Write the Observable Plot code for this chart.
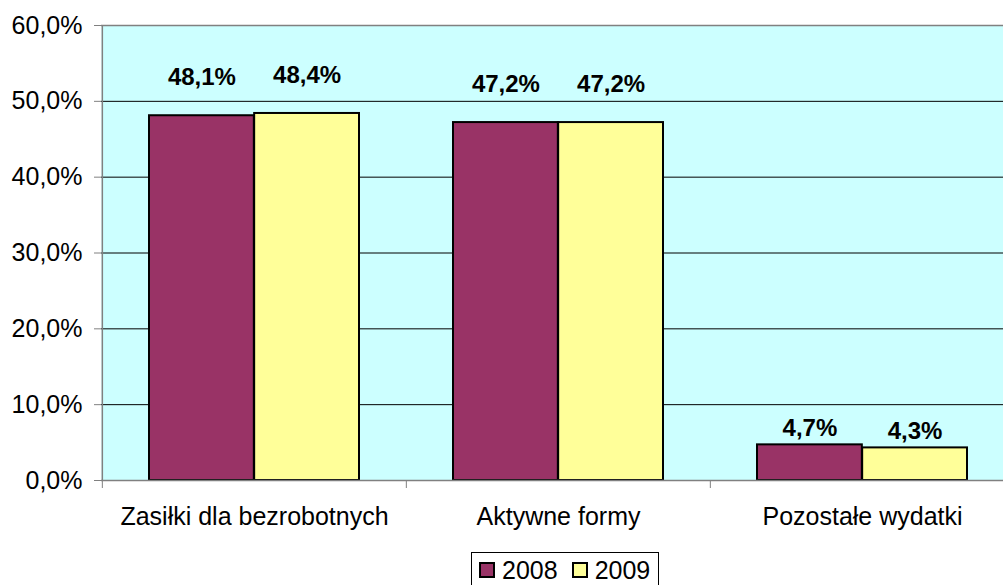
<!DOCTYPE html>
<html><head><meta charset="utf-8">
<script src="https://cdn.jsdelivr.net/npm/d3@7"></script>
<script src="https://cdn.jsdelivr.net/npm/@observablehq/plot@0.6"></script>
<style>
body{margin:0;background:#fff;font-family:"Liberation Sans",Arial,sans-serif;}
#chart{position:relative;width:1003px;height:585px;overflow:hidden;background:#fff;}
#chart svg{display:block;}
#legend{position:absolute;left:471px;top:552px;width:186px;height:40px;border:1px solid #000;box-sizing:content-box;display:flex;align-items:flex-start;}
.item{display:flex;align-items:center;height:40px;margin-top:-3px;}
.sw{width:12px;height:12px;border:2px solid #000;margin-left:7px;margin-right:7px;}
.lbl{font-size:25px;color:#000;line-height:25px;}
</style></head><body>
<div id="chart"></div>
<script>
const categories = ["Zasiłki dla bezrobotnych", "Aktywne formy", "Pozostałe wydatki"];
const years = ["2008", "2009"];
const values2008 = [48.1, 47.2, 4.7];
const values2009 = [48.4, 47.2, 4.3];
const yTicks = [0, 10, 20, 30, 40, 50, 60];
const colors = ["#993366", "#FFFF99"];

const fmt = v => v.toFixed(1).replace(".", ",") + "%";
const series = [values2008, values2009].map((vals, s) =>
  categories.map((c, i) => ({category: c, year: years[s], value: vals[i]})));

const H = 548;
const X0 = 101, X1 = 1014, Y0 = 480, Y1 = 25;
const bw = (X1 - X0) / categories.length;
const half = bw / 2;
const outer = 47, barW = (bw - 2 * outer) / 2;

function labels(data, dx) {
  return [
    Plot.text(data.filter(d => d.value >= 20), {x: "category", y: "value", text: d => fmt(d.value), dx, dy: -38, fontWeight: "bold", fontSize: 24, fill: "#000"}),
    Plot.text(data.filter(d => d.value < 20), {x: "category", y: "value", text: d => fmt(d.value), dx, dy: -17, fontWeight: "bold", fontSize: 24, fill: "#000"})
  ];
}

const plot = Plot.plot({
  width: 1003, height: H,
  marginLeft: X0, marginRight: 0, marginTop: Y1, marginBottom: H - Y0,
  style: {fontFamily: "'Liberation Sans', Arial, sans-serif", fontSize: "25px", color: "#000", background: "#fff", overflow: "visible"},
  x: {domain: categories, range: [X0, X1], padding: 0, axis: null, label: null},
  y: {domain: [0, 60], axis: null, label: null},
  marks: [
    Plot.frame({fill: "#CCFFFF", stroke: "none"}),
    Plot.gridY(yTicks.filter(t => t > 0 && t < 60), {stroke: "#000", strokeOpacity: 1}),
    Plot.ruleY([60], {stroke: "#808080", strokeWidth: 1.5}),
    Plot.barY(series[0], {x: "category", y: "value", fill: colors[0], stroke: "#000", strokeWidth: 2, insetLeft: outer, insetRight: outer + barW}),
    Plot.barY(series[1], {x: "category", y: "value", fill: colors[1], stroke: "#000", strokeWidth: 2, insetLeft: outer + barW, insetRight: outer}),
    ...labels(series[0], -barW / 2),
    ...labels(series[1], barW / 2),
    Plot.ruleY([0], {stroke: "#808080", strokeWidth: 1.5}),
    Plot.ruleX([categories[0]], {y1: 0, y2: 60, dx: -half, stroke: "#808080", strokeWidth: 1.5}),
    Plot.axisY({ticks: yTicks, tickFormat: fmt, tickSize: 7, tickPadding: 12, stroke: "#808080", fontSize: 25, fill: "#000", label: null}),
    Plot.axisX({ticks: categories, tickSize: 8, tickFormat: () => "", dx: -half, stroke: "#808080", label: null}),
    Plot.axisX({ticks: categories, tickSize: 0, tickPadding: 27, fontSize: 25, fill: "#000", label: null})
  ]
});
const chart = document.getElementById("chart");
chart.appendChild(plot);

const legend = document.createElement("div");
legend.id = "legend";
years.forEach((y, i) => {
  const item = document.createElement("div");
  item.className = "item";
  const sw = document.createElement("div");
  sw.className = "sw";
  sw.style.background = colors[i];
  if (i > 0) sw.style.marginLeft = "14px";
  const lb = document.createElement("span");
  lb.className = "lbl";
  lb.textContent = y;
  item.appendChild(sw); item.appendChild(lb);
  legend.appendChild(item);
});
chart.appendChild(legend);
</script>
</body></html>
